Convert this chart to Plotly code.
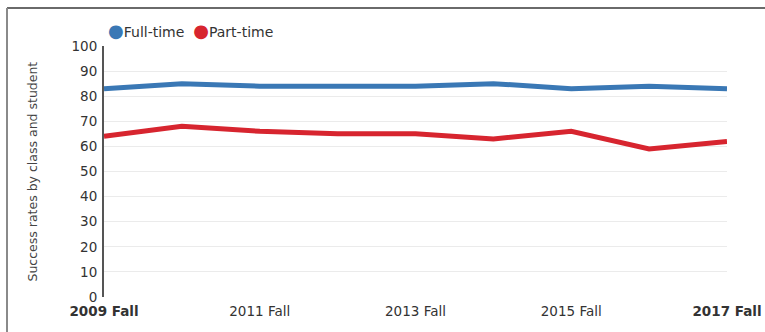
import plotly.graph_objects as go

years = [2009, 2010, 2011, 2012, 2013, 2014, 2015, 2016, 2017]
full_time = [83, 85, 84, 84, 84, 85, 83, 84, 83]
part_time = [64, 68, 66, 65, 65, 63, 66, 59, 62]
tick_years = [2009, 2011, 2013, 2015, 2017]
tick_labels = ["<b>2009 Fall</b>", "2011 Fall", "2013 Fall", "2015 Fall", "<b>2017 Fall</b>"]
y_ticks = list(range(0, 101, 10))

BLUE = "#3a78b5"
RED = "#d7252f"
FONT = "DejaVu Sans"

W, H = 765, 332
L, R, T, B = 104, 38, 46, 35
pw, ph = W - L - R, H - T - B

def px_x(x):
    return (x - L) / pw

def px_y(y):
    return (H - B - y) / ph

fig = go.Figure()
fig.add_trace(go.Scatter(x=years, y=full_time, mode="lines", name="Full-time",
                         line=dict(color=BLUE, width=5), showlegend=False))
fig.add_trace(go.Scatter(x=years, y=part_time, mode="lines", name="Part-time",
                         line=dict(color=RED, width=5), showlegend=False))

fig.update_layout(
    width=W, height=H,
    margin=dict(l=L, r=R, t=T, b=B, autoexpand=False),
    paper_bgcolor="white", plot_bgcolor="white",
    font=dict(family=FONT, size=13.5, color="#3a3a3a"),
    showlegend=False,
    xaxis=dict(range=[2009, 2017], tickvals=tick_years, ticktext=tick_labels,
               showgrid=False, zeroline=False, showline=False, ticks="",
               ticklabelstandoff=4,
               tickfont=dict(size=13.5, color="#333"), fixedrange=True),
    yaxis=dict(range=[0, 100], tickvals=y_ticks, showgrid=True, gridcolor="#ebebeb",
               gridwidth=1, zeroline=False, showline=True, linecolor="#555", linewidth=2,
               ticks="", ticklabelstandoff=2,
               tickfont=dict(size=13.5, color="#333"), fixedrange=True),
)

# Custom legend
fig.add_annotation(
    xref="paper", yref="paper", x=px_x(106), y=px_y(30), xanchor="left", yanchor="middle",
    showarrow=False, align="left",
    text=(f'<span style="color:{BLUE};font-size:18px">●</span>Full-time&nbsp;&nbsp;'
          f'<span style="color:{RED};font-size:18px">●</span>Part-time'),
    font=dict(family=FONT, size=14, color="#333"),
)

# Y title
fig.add_annotation(
    xref="paper", yref="paper", x=px_x(32), y=0.5, xanchor="center", yanchor="middle",
    showarrow=False, textangle=-90, text="Success rates by class and student",
    font=dict(family=FONT, size=12.5, color="#444"),
)

# Outer frame (top and left)
fig.add_shape(type="line", xref="paper", yref="paper",
              x0=px_x(7), x1=px_x(W + 5), y0=px_y(8), y1=px_y(8),
              line=dict(color="#6a6a6a", width=2))
fig.add_shape(type="line", xref="paper", yref="paper",
              x0=px_x(7), x1=px_x(7), y0=px_y(8), y1=px_y(H + 5),
              line=dict(color="#8a8a8a", width=2))

fig.write_html("out.html")
